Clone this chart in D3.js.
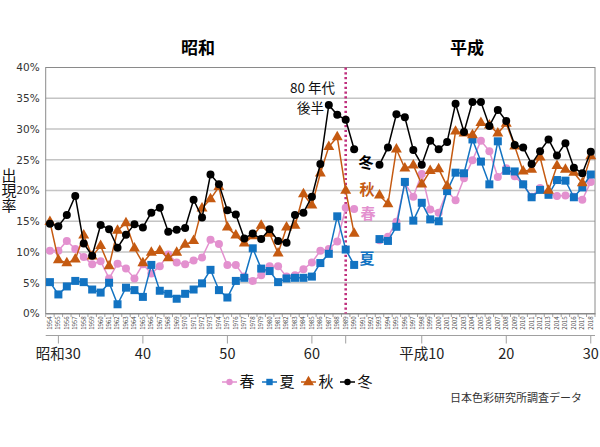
<!DOCTYPE html>
<html><head><meta charset="utf-8">
<script src="https://cdn.jsdelivr.net/npm/d3@7"></script>
<style>
body{margin:0;background:#fff}
svg{display:block}
text{font-family:"Noto Sans CJK JP","Noto Sans",sans-serif}
</style>
</head><body>
<svg id="c" width="600" height="447"></svg>
<script>
const years = d3.range(1954, 2019);
const spring = [10.2,10.2,11.8,10.5,9.2,8.0,8.5,5.7,8.1,7.3,5.7,8.0,6.5,7.7,9.6,8.3,8.0,8.6,9.1,12.0,11.3,7.9,7.9,6.0,5.3,6.2,7.7,7.7,6.0,6.2,7.2,8.3,10.2,10.5,11.7,17.2,17.0,null,null,11.9,12.5,14.9,21.2,19.0,22.7,16.9,16.4,19.9,18.4,22.0,24.9,28.1,26.4,22.2,23.6,22.3,21.0,19.0,20.4,19.5,19.1,19.2,19.0,18.5,21.4];
const summer = [5.1,3.1,4.4,5.3,5.1,3.9,3.4,5.0,1.5,4.2,3.8,2.7,7.9,3.7,3.2,2.4,3.2,3.9,4.9,7.1,3.8,2.6,5.3,5.8,10.6,7.3,6.9,5.1,5.7,5.8,5.8,6.0,8.2,9.7,15.8,10.4,7.9,null,null,12.1,11.8,14.1,21.4,15.1,18.0,15.3,15.0,19.9,22.9,22.8,28.3,24.7,21.0,28.0,23.2,23.1,21.0,18.9,20.1,19.3,21.7,21.6,18.9,20.5,22.6];
const autumn = [14.9,8.7,8.2,8.8,12.7,9.3,11.0,7.7,13.5,14.7,10.6,8.2,9.9,10.2,9.0,9.9,11.2,11.8,17.1,18.6,20.6,14.0,12.7,11.4,12.6,14.3,13.0,9.8,14.0,14.3,19.4,17.6,22.8,27.1,28.7,20.0,13.0,null,null,19.2,17.8,26.7,23.6,24.1,21.0,23.2,23.5,20.7,29.6,29.3,29.0,31.0,30.6,29.3,30.9,27.2,23.1,23.4,25.4,20.0,24.0,23.4,22.9,21.2,25.6];
const winter = [14.6,14.2,16.0,19.1,11.4,9.4,14.4,13.7,10.7,12.8,14.5,14.0,16.4,17.2,13.3,13.6,13.9,18.5,15.6,22.6,21.0,16.8,16.1,12.2,13.0,12.1,13.7,11.8,11.5,16.0,16.4,19.0,24.3,33.9,32.3,31.5,26.7,null,null,24.2,27.0,32.4,31.9,26.6,24.2,28.1,26.7,27.9,34.1,29.5,34.4,34.4,30.5,33.1,31.3,27.4,27.0,24.3,26.4,28.3,25.7,27.7,23.7,22.8,26.3];
const seriesNames = ["春","夏","秋","冬"];
const seriesColors = ["#e391cf","#1273c2","#c55a11","#000000"];
const seriesMarkers = ["circle","square","triangle","circle"];
const yTicks = [0,5,10,15,20,25,30,35,40];
const eraYears = [1955,1965,1975,1985,1989,1998,2008,2018];
const eraLabels = ["昭和30","40","50","60","","平成10","20","30"];
const boundaryYear = 1989;

const svg = d3.select("#c");
const L = 45.7, R = 595, T = 67.5, B = 313.5;
const x = d3.scaleBand().domain(years).range([L, R]).paddingInner(0).paddingOuter(0);
const cx = d => x(d) + x.bandwidth()/2;
const y = d3.scaleLinear().domain([0, 40]).range([B, T]);

// gridlines
svg.append("g").selectAll("line").data(yTicks.filter(v => v > 0 && v < 40)).join("line")
  .attr("x1", L).attr("x2", R).attr("y1", d => y(d)).attr("y2", d => y(d))
  .attr("stroke", "#c4c4c4").attr("stroke-width", 1.3);

// plot border
svg.append("rect").attr("x", L).attr("y", T).attr("width", R - L).attr("height", B - T)
  .attr("fill", "none").attr("stroke", "#8a8a8a").attr("stroke-width", 1);

// y axis labels
const yAxis = d3.axisLeft(y).tickValues(yTicks).tickFormat(d => d + "%").tickSize(0).tickPadding(6);
const ya = svg.append("g").attr("transform", `translate(${L},0)`).call(yAxis);
ya.select(".domain").remove();
ya.selectAll("text").attr("fill", "#333")
  .style("font-family", '"DejaVu Sans","Noto Sans",sans-serif').attr("font-size", 10.5);

// x axis (years)
const xAxis = d3.axisBottom(x).tickSize(0).tickPadding(0);
const xa = svg.append("g").attr("transform", `translate(0,${B})`).call(xAxis);
xa.select(".domain").attr("stroke", "#8a8a8a");
xa.selectAll(".tick text")
  .attr("transform", "translate(0,3) rotate(-90)")
  .attr("text-anchor", "end").attr("dy", "0.32em").attr("y", 0).attr("x", 0)
  .attr("font-size", 6).attr("fill", "#444");
// category boundary ticks
svg.append("g").selectAll("line").data(years.concat([null])).join("line")
  .attr("x1", (d, i) => L + i * x.bandwidth()).attr("x2", (d, i) => L + i * x.bandwidth())
  .attr("y1", B).attr("y2", B + 3.5).attr("stroke", "#8a8a8a").attr("stroke-width", 0.8);

// era axis
const eraY = 335.5;
svg.append("line").attr("x1", L).attr("x2", R).attr("y1", eraY).attr("y2", eraY)
  .attr("stroke", "#a0a0a0").attr("stroke-width", 1);
const eg = svg.append("g");
eg.selectAll("line").data(eraYears).join("line")
  .attr("x1", d => cx(d)).attr("x2", d => cx(d)).attr("y1", eraY).attr("y2", eraY + 8)
  .attr("stroke", "#a0a0a0").attr("stroke-width", 1);
eg.selectAll("text").data(eraYears).join("text")
  .attr("x", d => cx(d)).attr("y", 354).attr("dy", "0.35em").attr("text-anchor", "middle")
  .attr("font-size", 14.5).attr("fill", "#222").text((d, i) => eraLabels[i]);

// boundary dotted line
svg.append("line").attr("x1", cx(boundaryYear)).attr("x2", cx(boundaryYear))
  .attr("y1", T).attr("y2", B).attr("stroke", "#c0307e").attr("stroke-width", 2.6)
  .attr("stroke-dasharray", "2.2,2.6");

// series
const allSeries = [spring, summer, autumn, winter];
const line = d3.line().defined(d => d.v != null).x(d => cx(d.year)).y(d => y(d.v));
function marker(sel, type, color) {
  if (type === "circle") {
    sel.append("circle").attr("r", 4).attr("fill", color);
  } else if (type === "square") {
    sel.append("rect").attr("x", -4).attr("y", -4).attr("width", 8).attr("height", 8).attr("fill", color);
  } else {
    sel.append("path").attr("d", d3.symbol().type(d3.symbolTriangle).size(52)()).attr("fill", color);
  }
}
allSeries.forEach((vals, si) => {
  const pts = years.map((yr, i) => ({year: yr, v: vals[i]}));
  const g = svg.append("g");
  g.append("path").datum(pts).attr("d", line).attr("fill", "none")
    .attr("stroke", seriesColors[si]).attr("stroke-width", 1.5);
  const m = g.selectAll("g.m").data(pts.filter(p => p.v != null)).join("g").attr("class", "m")
    .attr("transform", d => `translate(${cx(d.year)},${y(d.v)})`);
  marker(m, seriesMarkers[si], seriesColors[si]);
});

// series labels near gap
const labelPos = [[368,214],[367,259],[367,190],[366,163]];
seriesNames.forEach((n, i) => {
  svg.append("text").attr("x", labelPos[i][0]).attr("y", labelPos[i][1]).attr("dy", "0.35em")
    .attr("text-anchor", "middle").attr("font-size", 15).attr("font-weight", "bold")
    .attr("fill", seriesColors[i]).text(n);
});

// annotation
svg.append("text").attr("x", 335).attr("y", 92.8).attr("text-anchor", "end")
  .attr("font-size", 13.5).attr("fill", "#111").text("80 年代");
svg.append("text").attr("x", 324).attr("y", 112.6).attr("text-anchor", "end")
  .attr("font-size", 13.5).attr("fill", "#111").text("後半");

// era titles
svg.append("text").attr("x", 198).attr("y", 48).attr("dy", "0.35em").attr("text-anchor", "middle")
  .attr("font-size", 17).attr("font-weight", "bold").attr("fill", "#000").text("昭和");
svg.append("text").attr("x", 467).attr("y", 48).attr("dy", "0.35em").attr("text-anchor", "middle")
  .attr("font-size", 17).attr("font-weight", "bold").attr("fill", "#000").text("平成");

// y title vertical
svg.append("text").attr("x", 9).attr("y", 190).attr("text-anchor", "middle")
  .style("writing-mode", "vertical-rl").attr("font-size", 15).attr("fill", "#111").text("出現率");

// legend
const legX = [222, 262, 301, 340];
seriesNames.forEach((n, i) => {
  const g = svg.append("g").attr("transform", `translate(${legX[i]},382)`);
  g.append("line").attr("x1", 0).attr("x2", 15).attr("stroke", seriesColors[i]).attr("stroke-width", 1.5);
  const m = g.append("g").attr("transform", "translate(7.5,0)");
  marker(m, seriesMarkers[i], seriesColors[i]);
  m.select("circle").attr("r", 3.2);
  m.select("rect").attr("x", -3.2).attr("y", -3.2).attr("width", 6.4).attr("height", 6.4);
  g.append("text").attr("x", 17.5).attr("y", 0).attr("dy", "0.35em").attr("font-size", 15)
    .attr("fill", "#111").text(n);
});

// source
svg.append("text").attr("x", 582).attr("y", 398).attr("dy", "0.35em").attr("text-anchor", "end")
  .attr("font-size", 11).attr("fill", "#333").text("日本色彩研究所調査データ");
</script>
</body></html>
